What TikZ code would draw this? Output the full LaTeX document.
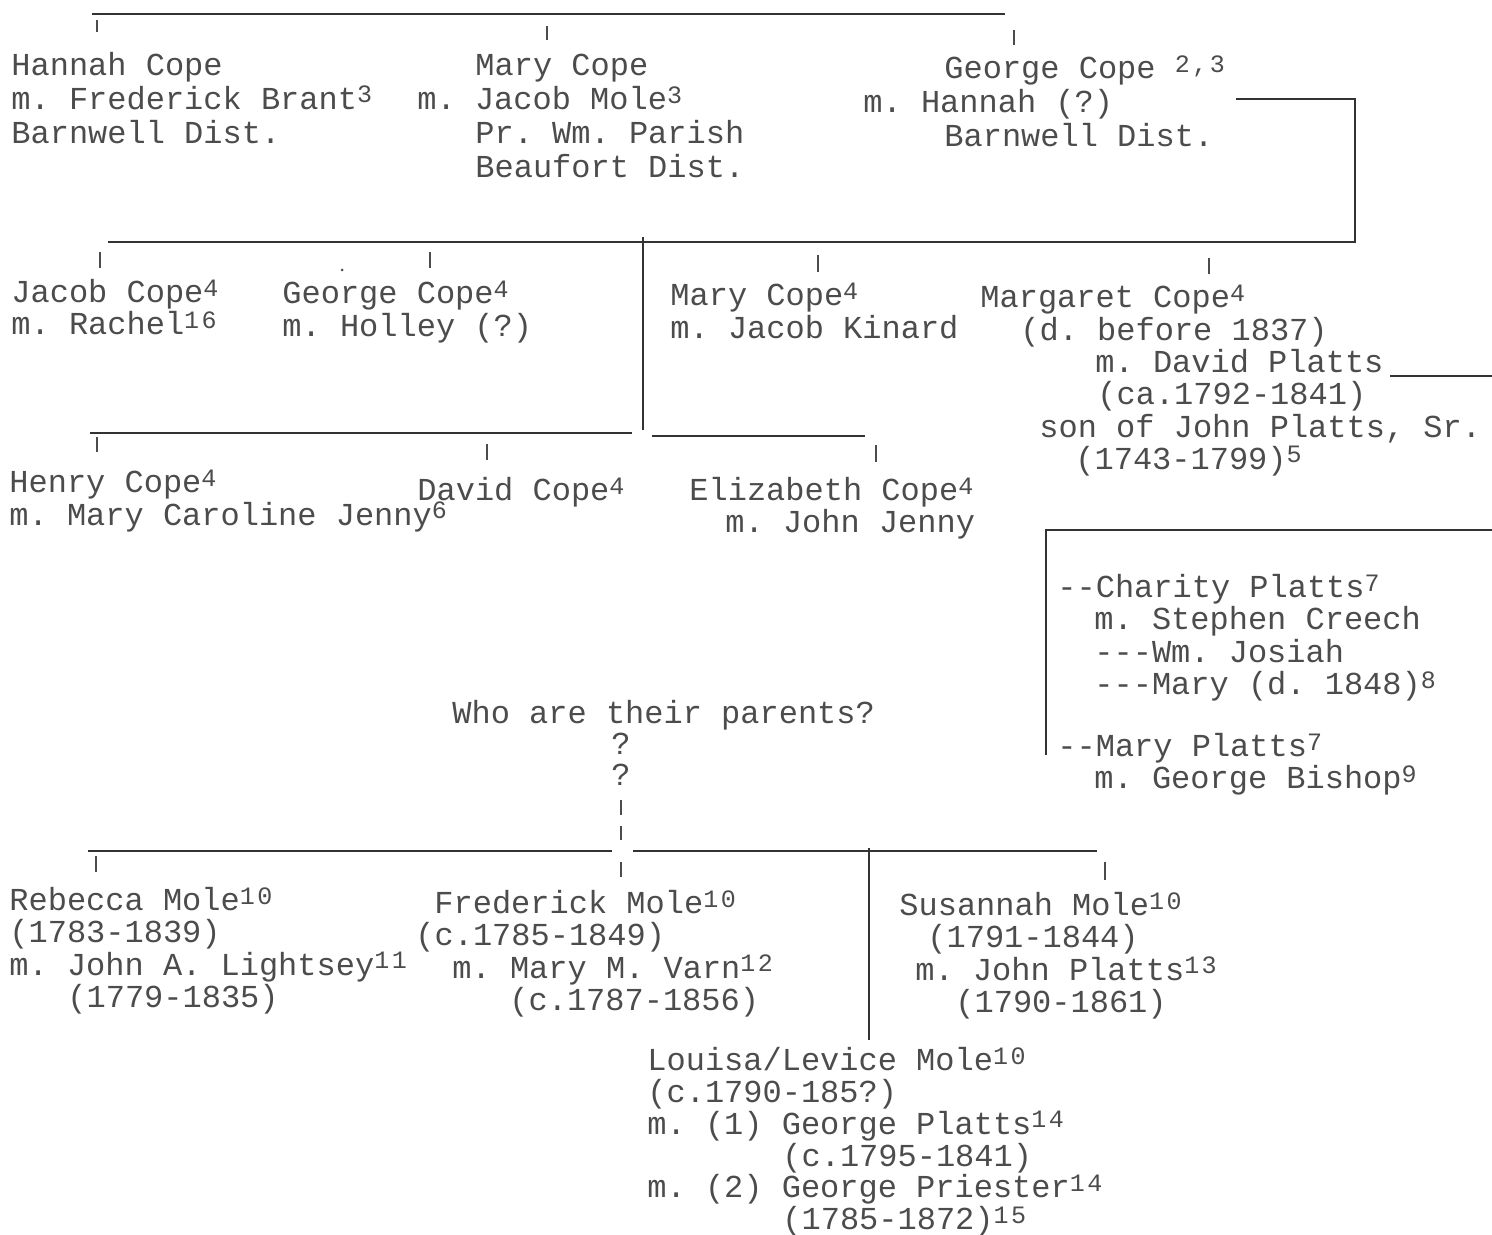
\documentclass[tikz,border=0pt]{standalone}
\usepackage{fontspec}
\setmonofont{Liberation Mono}
\newfontfamily\supfont{Liberation Mono}[LetterSpace=10]
\usepackage{tikz}
\usetikzlibrary{positioning}
\newlength\pxu
\setlength\pxu{0.5pt}
\newcommand{\indentby}[1]{\hspace*{#1\pxu}}
\newcommand{\fnum}[1]{\smash{\raisebox{3.2pt}{\supfont\fontsize{12.5}{12.5}\selectfont #1}}}

\begin{document}
\begin{tikzpicture}[x=0.5pt, y=-0.5pt,
  person/.style={anchor=north west, inner sep=0pt, align=left, text=black!70,
    font=\ttfamily\fontsize{16}{16.15}\selectfont, execute at begin node=\strut},
  topperson/.style={person, font=\ttfamily\fontsize{16}{16.9}\selectfont},
  bar/.style={line width=1pt, black!80},
  tick/.style={line width=0.7pt, black!70}]
  \useasboundingbox (0,0) rectangle (1492,1235);

  % first generation
  \draw[bar] (92,14) -- (1005,14);
  \foreach \x/\ya/\yb in {97/20/32, 547/26/40, 1014/30/45}
    \draw[tick] (\x,\ya) -- (\x,\yb);

  \node[topperson] (hannah) at (11,52) {Hannah Cope\\
    m. Frederick Brant\fnum{3}\\
    Barnwell Dist.};
  \node[topperson] (marycope) at (417,54) {\indentby{58}Mary Cope\\
    m. Jacob Mole\fnum{3}\\
    \indentby{58}Pr. Wm. Parish\\
    \indentby{58}Beaufort Dist.};
  \node[topperson] (georgecope) at (863,57) {\indentby{81}George Cope \fnum{2,3}\\
    m. Hannah (?)\\
    \indentby{81}Barnwell Dist.};

  % George's children
  \coordinate (gc-out) at (1236,99);
  \draw[bar] (gc-out) -- (1355,99) -- (1355,242) -- (108,242);
  \draw[bar] (643,237) -- (643,430);
  \foreach \x/\ya/\yb in {100/252/268, 430/252/268, 818/255/272, 1209/258/274}
    \draw[tick] (\x,\ya) -- (\x,\yb);
  \fill[black!70] (342,270) circle (1.5);

  \node[person] (jacob) at (11,279) {Jacob Cope\fnum{4}\\
    m. Rachel\fnum{16}};
  \node[person] (george) at (282,282) {George Cope\fnum{4}\\
    m. Holley (?)};
  \node[person] (mary) at (670,284) {Mary Cope\fnum{4}\\
    m. Jacob Kinard};
  \node[person] (margaret) at (980,286) {Margaret Cope\fnum{4}\\
    \indentby{40}(d. before 1837)\\
    \indentby{115}m. David Platts\\
    \indentby{117}(ca.1792-1841)\\
    \indentby{59}son of John Platts, Sr.\\
    \indentby{95}(1743-1799)\fnum{5}};
  \coordinate (platts-out) at (1390,376);
  \draw[bar] (platts-out) -- (1492,376);

  \draw[bar] (90,433) -- (632,433);
  \draw[bar] (652,436) -- (865,436);
  \foreach \x/\ya/\yb in {97/437/452, 487/444/460, 876/445/462}
    \draw[tick] (\x,\ya) -- (\x,\yb);

  \node[person] (henry) at (9,471) {Henry Cope\fnum{4}\\
    m. Mary Caroline Jenny\fnum{6}};
  \node[person] (david) at (417,477) {David Cope\fnum{4}};
  \node[person] (elizabeth) at (689,477) {Elizabeth Cope\fnum{4}\\
    \indentby{36}m. John Jenny};

  % Platts children
  \draw[bar] (1492,530) -- (1046,530) -- (1046,755);
  \node[person] (charity) at (1057,574) {--Charity Platts\fnum{7}\\
    \indentby{37}m. Stephen Creech\\
    \indentby{37}---Wm. Josiah\\
    \indentby{37}---Mary (d. 1848)\fnum{8}};
  \node[person] (maryplatts) at (1057,733) {--Mary Platts\fnum{7}\\
    \indentby{37}m. George Bishop\fnum{9}};

  % the Mole children
  \node[person, font=\ttfamily\fontsize{16}{15.5}\selectfont] (parents) at (452,700)
    {Who are their parents?\\
    \indentby{159}?\\
    \indentby{159}?};
  \draw[bar] (88,851) -- (612,851);
  \draw[bar] (633,851) -- (1097,851);
  \draw[bar] (869,848) -- (869,1040);
  \foreach \x/\ya/\yb in {621/800/815, 621/826/840, 621/862/877, 96/856/872, 1105/862/880}
    \draw[tick] (\x,\ya) -- (\x,\yb);

  \node[person] (rebecca) at (9,887) {Rebecca Mole\fnum{10}\\
    (1783-1839)\\
    m. John A. Lightsey\fnum{11}\\
    \indentby{58}(1779-1835)};
  \node[person] (frederick) at (415,890) {\indentby{19}Frederick Mole\fnum{10}\\
    (c.1785-1849)\\
    \indentby{37}m. Mary M. Varn\fnum{12}\\
    \indentby{94}(c.1787-1856)};
  \node[person] (susannah) at (899,892) {Susannah Mole\fnum{10}\\
    \indentby{28}(1791-1844)\\
    \indentby{16}m. John Platts\fnum{13}\\
    \indentby{56}(1790-1861)};
  \node[person, font=\ttfamily\fontsize{16}{15.9}\selectfont] (louisa) at (647,1047) {Louisa/Levice Mole\fnum{10}\\
    (c.1790-185?)\\
    m. (1) George Platts\fnum{14}\\
    \indentby{135}(c.1795-1841)\\
    m. (2) George Priester\fnum{14}\\
    \indentby{135}(1785-1872)\fnum{15}};
\end{tikzpicture}
\end{document}
